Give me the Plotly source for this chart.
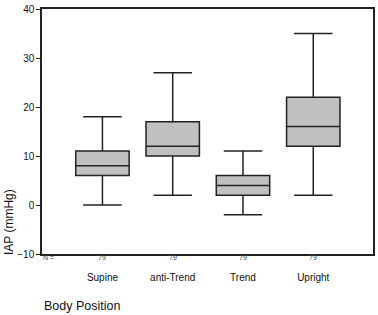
import plotly.graph_objects as go

categories = ["Supine", "anti-Trend", "Trend", "Upright"]
lower = [0, 2, -2, 2]
q1 = [6, 10, 2, 12]
median = [8, 12, 4, 16]
q3 = [11, 17, 6, 22]
upper = [18, 27, 11, 35]
n_counts = [79, 79, 79, 79]
y_ticks = [-10, 0, 10, 20, 30, 40]

fig = go.Figure()
fig.add_trace(go.Box(
    x=categories, q1=q1, median=median, q3=q3,
    lowerfence=lower, upperfence=upper,
    fillcolor="#c0c0c0", line=dict(color="#222222", width=1.5),
    whiskerwidth=0.72, width=0.76, boxpoints=False, showlegend=False,
    hoverinfo="skip",
))

font = "Liberation Sans, Arial, sans-serif"
for c, n in zip(categories, n_counts):
    fig.add_annotation(x=c, y=0, yref="paper", yshift=-9, text=str(n),
                       showarrow=False, font=dict(size=7, color="#444", family=font))
fig.add_annotation(x=0, xref="paper", y=0, yref="paper", xshift=-1, yshift=-9,
                   text="N =", showarrow=False, font=dict(size=7, color="#444", family=font))
fig.add_annotation(x=0, xref="paper", y=0, yref="paper", xanchor="left", yanchor="middle",
                   yshift=-52, text="Body Position", showarrow=False,
                   font=dict(size=12.5, color="#111", family=font))
fig.add_annotation(x=0, xref="paper", y=0, yref="paper", xanchor="center", yanchor="middle",
                   xshift=-33, yshift=32,
                   text="IAP (mmHg)", textangle=-90, showarrow=False,
                   font=dict(size=12, color="#111", family=font))

fig.update_layout(
    width=378, height=315,
    margin=dict(l=42, r=3, t=7, b=61),
    paper_bgcolor="white", plot_bgcolor="white",
    font=dict(family=font, color="#111"),
    xaxis=dict(type="category", range=[-0.86, 3.85], showline=True, mirror=True,
               linecolor="#222", linewidth=1.5, ticks="", showgrid=False,
               tickfont=dict(size=10), ticklabelstandoff=13),
    yaxis=dict(range=[-10, 40], tickvals=y_ticks, showline=True, mirror=True,
               linecolor="#222", linewidth=1.5, ticks="outside", ticklen=4,
               tickcolor="#222", showgrid=False, zeroline=False,
               tickfont=dict(size=10)),
)

fig.write_html("out.html", config={"displayModeBar": False},
               post_script="document.body.style.margin='0';document.body.style.overflow='hidden';")
